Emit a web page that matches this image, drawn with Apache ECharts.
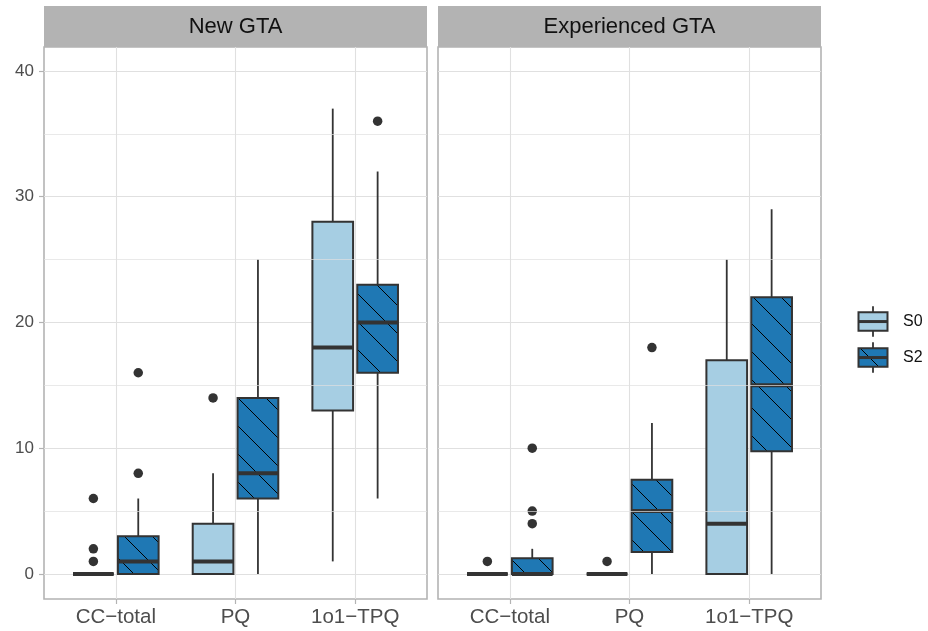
<!DOCTYPE html>
<html><head><meta charset="utf-8">
<script src="https://cdn.jsdelivr.net/npm/echarts@6/dist/echarts.min.js"></script>
<style>html,body{margin:0;padding:0;background:#fff}#c{width:928px;height:631px}</style>
</head><body><div id="c"></div>
<script>
// ---------------- data ----------------
const categories = ['CC\u2212total', 'PQ', '1o1\u2212TPQ'];
const panels = ['New GTA', 'Experienced GTA'];
const groups = ['S0', 'S2'];
const yTicks = [0, 10, 20, 30, 40];
const yMinorTicks = [5, 15, 25, 35];
// [low whisker, Q1, median, Q3, high whisker] for each category
const newS0Box = [[0, 0, 0, 0, 0], [0, 0, 1, 4, 8], [1, 13, 18, 28, 37]];
const newS2Box = [[0, 0, 1, 3, 6], [0, 6, 8, 14, 25], [6, 16, 20, 23, 32]];
const expS0Box = [[0, 0, 0, 0, 0], [0, 0, 0, 0, 0], [0, 0, 4, 17, 25]];
const expS2Box = [[0, 0, 0, 1.25, 2], [0, 1.75, 5, 7.5, 12], [0, 9.75, 15, 22, 29]];
// outliers: [category index, value]
const newS0Out = [[0, 1], [0, 2], [0, 6], [1, 14]];
const newS2Out = [[0, 8], [0, 16], [2, 36]];
const expS0Out = [[0, 1], [1, 1]];
const expS2Out = [[0, 4], [0, 5], [0, 10], [1, 18]];

// ---------------- style / layout ----------------
const FONT = '"Liberation Sans", Arial, Helvetica, sans-serif';
const FILLS = ['#A6CEE3', '#1F78B4'];
const OUTLINE = '#333333';
const GRID_COL = '#E0E0E0';
const BORDER_COL = '#B3B3B3';
const DODGE = 0.1875, HALF = 0.17;
const HATCH_SPACING = 28, HATCH_PHASE = 8;
const Y_MIN = -1.99, Y_MAX = 41.9;
const gridsLayout = [
  { left: 44, top: 47, width: 383, height: 552 },
  { left: 438, top: 47, width: 383, height: 552 }
];
const STRIP_TOP = 6;

function hatch(x0, y0, x1, y1) {
  const out = [];
  const s = HATCH_SPACING, ph = HATCH_PHASE;
  const cMin = x0 - y1, cMax = x1 - y0;
  for (let k = Math.ceil((cMin - ph) / s); k * s + ph <= cMax; k++) {
    const c = k * s + ph;
    const ya = Math.max(y0, x0 - c), yb = Math.min(y1, x1 - c);
    if (yb - ya > 0.5) {
      out.push({ type: 'line', shape: { x1: ya + c, y1: ya, x2: yb + c, y2: yb },
        style: { stroke: '#000', lineWidth: 1 } });
    }
  }
  return out;
}

function boxSeries(pi, gi, boxes) {
  const off = (gi === 0 ? -1 : 1) * DODGE;
  return {
    type: 'custom', name: groups[gi], xAxisIndex: pi, yAxisIndex: pi, z: 3,
    data: boxes.map((b, i) => [i + 1].concat(b)),
    encode: { x: 0, y: [1, 2, 3, 4, 5] },
    renderItem(params, api) {
      const x = api.value(0) + off;
      const lo = api.value(1), q1 = api.value(2), md = api.value(3), q3 = api.value(4), hi = api.value(5);
      const pLo = api.coord([x, lo]), pQ1 = api.coord([x, q1]), pMd = api.coord([x, md]),
            pQ3 = api.coord([x, q3]), pHi = api.coord([x, hi]);
      const xl = api.coord([x - HALF, q1])[0], xr = api.coord([x + HALF, q1])[0];
      const lw = { stroke: OUTLINE, lineWidth: 1.8 };
      const ch = [];
      ch.push({ type: 'line', shape: { x1: pHi[0], y1: pHi[1], x2: pQ3[0], y2: pQ3[1] }, style: lw });
      ch.push({ type: 'line', shape: { x1: pQ1[0], y1: pQ1[1], x2: pLo[0], y2: pLo[1] }, style: lw });
      ch.push({ type: 'rect', shape: { x: xl, y: pQ3[1], width: xr - xl, height: pQ1[1] - pQ3[1] },
        style: { fill: FILLS[gi] } });
      if (gi === 1) hatch(xl, pQ3[1], xr, pQ1[1]).forEach(e => ch.push(e));
      ch.push({ type: 'rect', shape: { x: xl, y: pQ3[1], width: xr - xl, height: pQ1[1] - pQ3[1] },
        style: { fill: 'none', stroke: OUTLINE, lineWidth: 2 } });
      ch.push({ type: 'line', shape: { x1: xl, y1: pMd[1], x2: xr, y2: pMd[1] },
        style: { stroke: OUTLINE, lineWidth: 4 } });
      return { type: 'group', children: ch };
    }
  };
}

function outlierSeries(pi, gi, pts) {
  const off = (gi === 0 ? -1 : 1) * DODGE;
  return {
    type: 'scatter', xAxisIndex: pi, yAxisIndex: pi, z: 4, silent: true,
    symbol: 'circle', symbolSize: 9.5, itemStyle: { color: OUTLINE, opacity: 1 },
    data: pts.map(p => [p[0] + 1 + off, p[1]])
  };
}

function minorGridSeries(pi) {
  return {
    type: 'line', xAxisIndex: pi, yAxisIndex: pi, data: [], z: 1, silent: true, showSymbol: false,
    markLine: {
      silent: true, symbol: 'none', label: { show: false }, animation: false,
      lineStyle: { color: GRID_COL, width: 0.7, type: 'solid' },
      data: yMinorTicks.map(v => ({ yAxis: v }))
    }
  };
}

const xAxes = [0, 1].map(pi => ({
  type: 'value', gridIndex: pi, min: 0.4, max: 3.6, position: 'bottom',
  axisLine: { show: false, onZero: false },
  axisTick: { show: true, length: 5, customValues: [1, 2, 3], lineStyle: { color: BORDER_COL, width: 1.2 } },
  axisLabel: { customValues: [1, 2, 3], formatter: v => categories[Math.round(v) - 1] || '',
    fontFamily: FONT, fontSize: 20.5, color: '#4D4D4D', margin: 8 },
  splitLine: { show: true, lineStyle: { color: GRID_COL, width: 1.1 } }
}));
const yAxes = [0, 1].map(pi => ({
  type: 'value', gridIndex: pi, min: Y_MIN, max: Y_MAX,
  axisLine: { show: false, onZero: false },
  axisTick: { show: pi === 0, length: 5, customValues: yTicks, lineStyle: { color: BORDER_COL, width: 1.2 } },
  axisLabel: { show: pi === 0, customValues: yTicks, fontFamily: FONT, fontSize: 17, color: '#4D4D4D', margin: 10 },
  splitLine: { show: true, lineStyle: { color: GRID_COL, width: 1.1 } }
}));

const series = [
  minorGridSeries(0), minorGridSeries(1),
  boxSeries(0, 0, newS0Box), boxSeries(0, 1, newS2Box),
  boxSeries(1, 0, expS0Box), boxSeries(1, 1, expS2Box),
  outlierSeries(0, 0, newS0Out), outlierSeries(0, 1, newS2Out),
  outlierSeries(1, 0, expS0Out), outlierSeries(1, 1, expS2Out)
];

// strips + legend (decoration)
const graphics = [];
gridsLayout.forEach((g, pi) => {
  graphics.push({ type: 'rect', shape: { x: g.left, y: STRIP_TOP, width: g.width, height: g.top - STRIP_TOP },
    style: { fill: BORDER_COL }, z: 10 });
  graphics.push({ type: 'text', x: g.left + g.width / 2, y: (STRIP_TOP + g.top) / 2 + 0.5, z: 11,
    style: { text: panels[pi], font: '22px ' + FONT, fill: '#111', align: 'center', verticalAlign: 'middle' } });
});
const LEG_X = 858.5, LEG_W = 29, LEG_BOX_H = 18.5, LEG_Y = [312.3, 348.3];
groups.forEach((name, gi) => {
  const y0 = LEG_Y[gi], cx = LEG_X + LEG_W / 2;
  graphics.push({ type: 'line', shape: { x1: cx, y1: y0 - 6, x2: cx, y2: y0 + LEG_BOX_H + 6 },
    style: { stroke: OUTLINE, lineWidth: 1.8 }, z: 10 });
  graphics.push({ type: 'rect', shape: { x: LEG_X, y: y0, width: LEG_W, height: LEG_BOX_H },
    style: { fill: FILLS[gi] }, z: 10 });
  if (gi === 1) hatch(LEG_X, y0, LEG_X + LEG_W, y0 + LEG_BOX_H).forEach(e => { e.z = 10; graphics.push(e); });
  graphics.push({ type: 'rect', shape: { x: LEG_X, y: y0, width: LEG_W, height: LEG_BOX_H },
    style: { fill: 'none', stroke: OUTLINE, lineWidth: 2 }, z: 10 });
  graphics.push({ type: 'line', shape: { x1: LEG_X, y1: y0 + LEG_BOX_H / 2, x2: LEG_X + LEG_W, y2: y0 + LEG_BOX_H / 2 },
    style: { stroke: OUTLINE, lineWidth: 3 }, z: 10 });
  graphics.push({ type: 'text', x: 903, y: y0 + LEG_BOX_H / 2, z: 10,
    style: { text: name, font: '16px ' + FONT, fill: '#111', align: 'left', verticalAlign: 'middle' } });
});

const chart = echarts.init(document.getElementById('c'), null, { renderer: 'canvas' });
chart.setOption({
  animation: false,
  backgroundColor: '#fff',
  grid: gridsLayout.map(g => Object.assign({ show: true, borderColor: BORDER_COL, borderWidth: 1.6,
    backgroundColor: '#fff', containLabel: false }, g)),
  xAxis: xAxes,
  yAxis: yAxes,
  series: series,
  graphic: graphics
});
</script>
</body></html>
